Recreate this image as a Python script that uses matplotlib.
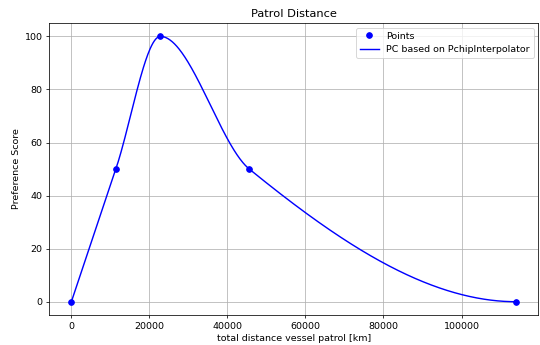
import numpy as np
import matplotlib.pyplot as plt

# Points of the preference curve
distance_km = np.array([0, 11400, 22800, 45600, 114000], dtype=float)
preference = np.array([0, 50, 100, 50, 0], dtype=float)


def pchip_slopes(x, y):
    h = np.diff(x)
    delta = np.diff(y) / h
    d = np.zeros_like(y)
    for k in range(1, len(x) - 1):
        if delta[k - 1] * delta[k] > 0:
            w1 = 2 * h[k] + h[k - 1]
            w2 = h[k] + 2 * h[k - 1]
            d[k] = (w1 + w2) / (w1 / delta[k - 1] + w2 / delta[k])

    def edge(h0, h1, m0, m1):
        dd = ((2 * h0 + h1) * m0 - h0 * m1) / (h0 + h1)
        if np.sign(dd) != np.sign(m0):
            dd = 0.0
        elif np.sign(m0) != np.sign(m1) and abs(dd) > abs(3 * m0):
            dd = 3 * m0
        return dd

    d[0] = edge(h[0], h[1], delta[0], delta[1])
    d[-1] = edge(h[-1], h[-2], delta[-1], delta[-2])
    return d


def pchip_eval(x, y, xs):
    d = pchip_slopes(x, y)
    idx = np.clip(np.searchsorted(x, xs) - 1, 0, len(x) - 2)
    h = x[idx + 1] - x[idx]
    t = (xs - x[idx]) / h
    h00 = 2 * t**3 - 3 * t**2 + 1
    h10 = t**3 - 2 * t**2 + t
    h01 = -2 * t**3 + 3 * t**2
    h11 = t**3 - t**2
    return h00 * y[idx] + h10 * h * d[idx] + h01 * y[idx + 1] + h11 * h * d[idx + 1]


xs = np.linspace(distance_km[0], distance_km[-1], 600)
ys = pchip_eval(distance_km, preference, xs)

fig, ax = plt.subplots(figsize=(540 / 68, 345 / 68), dpi=68)
fig.subplots_adjust(left=0.091, right=0.997, top=0.933, bottom=0.087)

ax.plot(distance_km, preference, 'o', color='blue', label='Points')
ax.plot(xs, ys, color='blue', label='PC based on PchipInterpolator')

ax.set_title('Patrol Distance')
ax.set_xlabel('total distance vessel patrol [km]')
ax.set_ylabel('Preference Score')
ax.grid(True)
ax.legend(loc='upper right')

fig.savefig('out.png', dpi=68)
